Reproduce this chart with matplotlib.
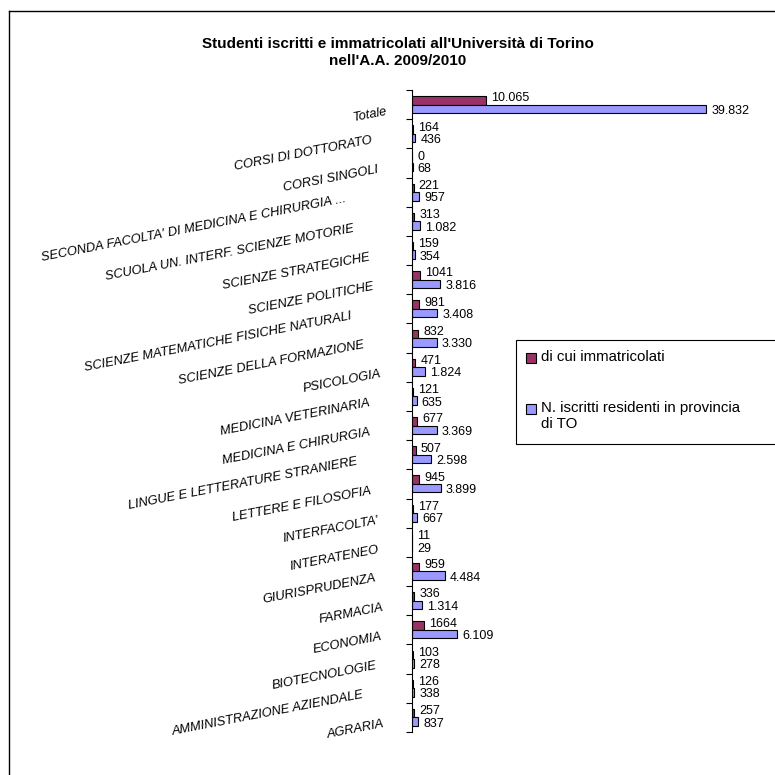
import numpy as np
import matplotlib.pyplot as plt
from matplotlib import transforms
from matplotlib.patches import Rectangle
from matplotlib.lines import Line2D

plt.rcParams['font.family'] = ['Liberation Sans', 'DejaVu Sans']

# facoltà dal basso verso l'alto
facolta = [
    "AGRARIA",
    "AMMINISTRAZIONE AZIENDALE",
    "BIOTECNOLOGIE",
    "ECONOMIA",
    "FARMACIA",
    "GIURISPRUDENZA",
    "INTERATENEO",
    "INTERFACOLTA'",
    "LETTERE E FILOSOFIA",
    "LINGUE E LETTERATURE STRANIERE",
    "MEDICINA E CHIRURGIA",
    "MEDICINA VETERINARIA",
    "PSICOLOGIA",
    "SCIENZE DELLA FORMAZIONE",
    "SCIENZE MATEMATICHE FISICHE NATURALI",
    "SCIENZE POLITICHE",
    "SCIENZE STRATEGICHE",
    "SCUOLA UN. INTERF. SCIENZE MOTORIE",
    "SECONDA FACOLTA' DI MEDICINA E CHIRURGIA ...",
    "CORSI SINGOLI",
    "CORSI DI DOTTORATO",
    "Totale",
]
immatricolati = [257, 126, 103, 1664, 336, 959, 11, 177, 945, 507, 677, 121,
                 471, 832, 981, 1041, 159, 313, 221, 0, 164, 10065]
iscritti_to = [837, 338, 278, 6109, 1314, 4484, 29, 667, 3899, 2598, 3369, 635,
               1824, 3330, 3408, 3816, 354, 1082, 957, 68, 436, 39832]

legenda = ["di cui immatricolati", "N. iscritti residenti in provincia\ndi TO"]
titolo = "Studenti iscritti e immatricolati all'Università di Torino\nnell'A.A. 2009/2010"

col_imm = "#993366"
col_isc = "#9999FF"

W, H = 775, 775
fig = plt.figure(figsize=(W / 100, H / 100), dpi=100)

# area del grafico in pixel
ax_l, ax_r, ax_t, ax_b = 412, 762, 90, 732
ax = fig.add_axes([ax_l / W, 1 - ax_b / H, (ax_r - ax_l) / W, (ax_b - ax_t) / H])

y = np.arange(len(facolta))
h = 0.29
ax.barh(y + h / 2, immatricolati, height=h, color=col_imm, edgecolor="black", linewidth=0.8)
ax.barh(y - h / 2, iscritti_to, height=h, color=col_isc, edgecolor="black", linewidth=0.8)

ax.set_xlim(0, (ax_r - ax_l) / 0.00739)
ax.set_ylim(-0.5, len(facolta) - 0.5)

for s in ["top", "right", "bottom"]:
    ax.spines[s].set_visible(False)
ax.spines["left"].set_linewidth(0.8)
ax.set_xticks([])
ax.set_yticks(np.arange(-0.5, len(facolta), 1.0))
ax.set_yticklabels([])
ax.tick_params(axis="y", direction="out", length=4.5, width=0.8)


def punti(v):
    return f"{v:,}".replace(",", ".")


# etichette dei valori (un po' allargate in verticale per non sovrapporsi)
tr_imm = transforms.offset_copy(ax.transData, fig=fig, x=5, y=2, units="dots")
tr_isc = transforms.offset_copy(ax.transData, fig=fig, x=5, y=-2, units="dots")
for i in range(len(facolta)):
    v1 = immatricolati[i]
    ax.text(v1, y[i] + h / 2, punti(v1) if v1 >= 10000 else str(v1), transform=tr_imm,
            fontsize=9, va="center", ha="left")
    v2 = iscritti_to[i]
    ax.text(v2, y[i] - h / 2, punti(v2), transform=tr_isc,
            fontsize=9, va="center", ha="left")

# nomi delle facoltà, ruotati e spostati a sinistra in base alla lunghezza
ang = 11
fs_cat = 9.3
fig.canvas.draw()
rend = fig.canvas.get_renderer()
for i, nome in enumerate(facolta):
    tmp = fig.text(0, 0, nome, fontsize=fs_cat, style="italic")
    w = tmp.get_window_extent(rend).width
    tmp.remove()
    dx = w * np.cos(np.radians(ang))
    tr = transforms.offset_copy(ax.transData, fig=fig, x=-19 - 0.155 * dx, y=-7, units="dots")
    ax.text(0, y[i], nome, transform=tr, fontsize=fs_cat, style="italic",
            rotation=ang, rotation_mode="anchor", ha="right", va="center")

# titolo
fig.text(398 / W, 1 - 52.5 / H, titolo, ha="center", va="center",
         fontsize=11, fontweight="bold", linespacing=1.25)

# legenda
fig.add_artist(Rectangle((516 / W, 1 - 444 / H), 300 / W, 104 / H, transform=fig.transFigure,
                         facecolor="white", edgecolor="black", linewidth=0.8, clip_on=False))
for col, txt, yc in [(col_imm, legenda[0], 358), (col_isc, legenda[1], 409)]:
    fig.add_artist(Rectangle((526 / W, 1 - (yc + 5) / H), 10 / W, 10 / H, transform=fig.transFigure,
                             facecolor=col, edgecolor="black", linewidth=0.8))
    fig.text(541 / W, 1 - (yc - 8) / H, txt, ha="left", va="top", fontsize=10.8, linespacing=1.15)

# cornice esterna
fig.add_artist(Line2D([9 / W, 1.1], [1 - 11 / H, 1 - 11 / H], transform=fig.transFigure, color="black", lw=1.0))
fig.add_artist(Line2D([9 / W, 9 / W], [1 - 11 / H, -0.1], transform=fig.transFigure, color="black", lw=1.0))

fig.savefig("out.png", dpi=100)
